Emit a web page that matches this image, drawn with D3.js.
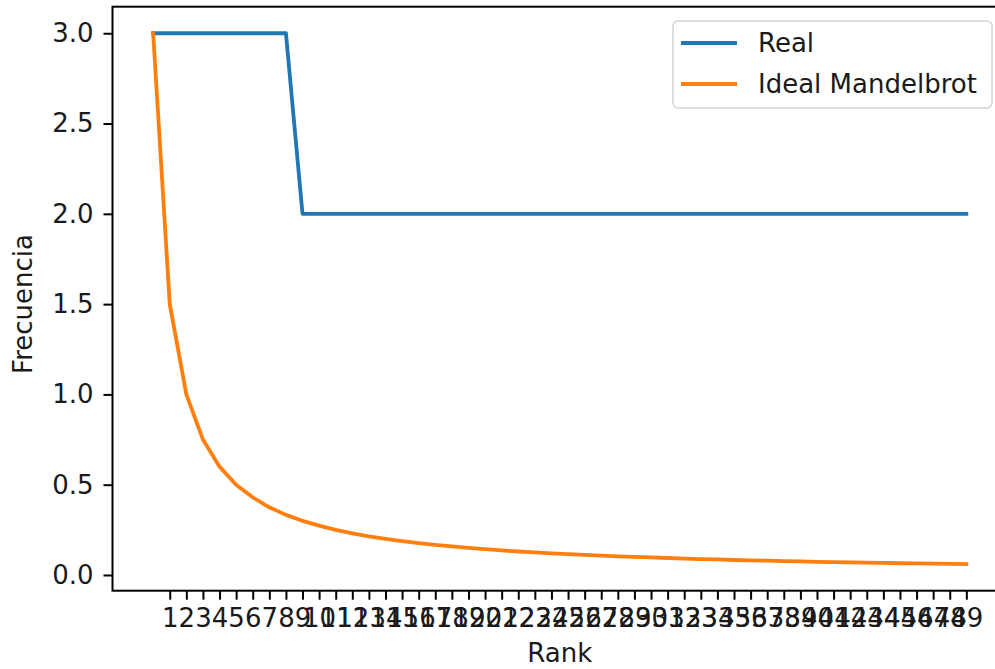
<!DOCTYPE html>
<html>
<head>
<meta charset="utf-8">
<script src="https://cdn.jsdelivr.net/npm/d3@7"></script>
<style>
html,body{margin:0;padding:0;background:#fff;}
svg{display:block;font-family:"DejaVu Sans",sans-serif;}
</style>
</head>
<body>
<svg id="chart" width="995" height="669"></svg>
<script>
// Data
const ranks = d3.range(0, 50);
const realValues = [3,3,3,3,3,3,3,3,3,2,2,2,2,2,2,2,2,2,2,2,2,2,2,2,2,2,2,2,2,2,2,2,2,2,2,2,2,2,2,2,2,2,2,2,2,2,2,2,2,2];
const idealValues = [3,1.5,1.0,0.75,0.6,0.5,0.43,0.375,0.333,0.3,0.273,0.25,0.231,0.214,0.2,0.1875,0.176,0.167,0.158,0.15,0.143,0.136,0.130,0.125,0.12,0.115,0.111,0.107,0.103,0.1,0.097,0.094,0.091,0.088,0.086,0.083,0.081,0.079,0.077,0.075,0.073,0.071,0.070,0.068,0.067,0.065,0.064,0.063,0.061,0.06];
const xTickValues = d3.range(1, 50);
const yTickValues = [0.0,0.5,1.0,1.5,2.0,2.5,3.0];
const seriesNames = ["Real","Ideal Mandelbrot"];
const seriesColors = ["#1f77b4","#ff7f0e"];

const svg = d3.select("#chart");
const pLeft = 112.5, pRight = 1007, pTop = 6.7, pBottom = 590.7;
const fs = 26;
const tickLen = 9;
const txtCol = "#1a1a1a";

const x = d3.scaleLinear().domain([-2.45, 51.45]).range([pLeft, pRight]);
const y = d3.scaleLinear().domain([-0.087, 3.147]).range([pBottom, pTop]);

// Lines
const line = d3.line().x((d,i)=>x(ranks[i])).y(d=>y(d));
[realValues, idealValues].forEach((vals, k) => {
  svg.append("path").datum(vals)
    .attr("d", line)
    .attr("fill","none")
    .attr("stroke", seriesColors[k])
    .attr("stroke-width", 3.8)
    .attr("stroke-linecap","square")
    .attr("stroke-linejoin","round");
});

// Axes
const xAxis = d3.axisBottom(x).tickValues(xTickValues).tickFormat(d3.format("d"))
  .tickSize(tickLen).tickPadding(9).tickSizeOuter(0);
const gx = svg.append("g").attr("transform", `translate(0,${pBottom})`).call(xAxis);
gx.select(".domain").remove();
gx.selectAll("line").attr("stroke","#000").attr("stroke-width",2);
gx.selectAll("text").attr("font-size", fs).attr("fill",txtCol).attr("font-family","DejaVu Sans");

const yAxis = d3.axisLeft(y).tickValues(yTickValues).tickFormat(d3.format(".1f"))
  .tickSize(tickLen).tickPadding(10).tickSizeOuter(0);
const gy = svg.append("g").attr("transform", `translate(${pLeft},0)`).call(yAxis);
gy.select(".domain").remove();
gy.selectAll("line").attr("stroke","#000").attr("stroke-width",2);
gy.selectAll("text").attr("font-size", fs).attr("fill",txtCol).attr("font-family","DejaVu Sans");

// Spines
svg.append("rect").attr("x", pLeft).attr("y", pTop).attr("width", pRight-pLeft).attr("height", pBottom-pTop)
  .attr("fill","none").attr("stroke","#000").attr("stroke-width",2);

// Axis labels
svg.append("text").attr("x", (pLeft+pRight)/2).attr("y", 662).attr("text-anchor","middle")
  .attr("font-size", fs).attr("fill",txtCol).text("Rank");
svg.append("text").attr("transform", `translate(32,304) rotate(-90)`)
  .attr("text-anchor","middle").attr("font-size", fs).attr("fill",txtCol).text("Frecuencia");

// Legend
const lg = svg.append("g");
lg.append("rect").attr("x", 673).attr("y", 21).attr("width", 319).attr("height", 87)
  .attr("rx", 5).attr("fill","#fff").attr("fill-opacity",0.8)
  .attr("stroke","#d4d4d4").attr("stroke-width",1.5);
seriesNames.forEach((name, k) => {
  const cy = 43 + k*41;
  lg.append("line").attr("x1", 681).attr("x2", 737).attr("y1", cy).attr("y2", cy)
    .attr("stroke", seriesColors[k]).attr("stroke-width", 3.8);
  lg.append("text").attr("x", 758).attr("y", cy).attr("dy","0.36em")
    .attr("font-size", fs).attr("fill",txtCol).text(name);
});
</script>
</body>
</html>
